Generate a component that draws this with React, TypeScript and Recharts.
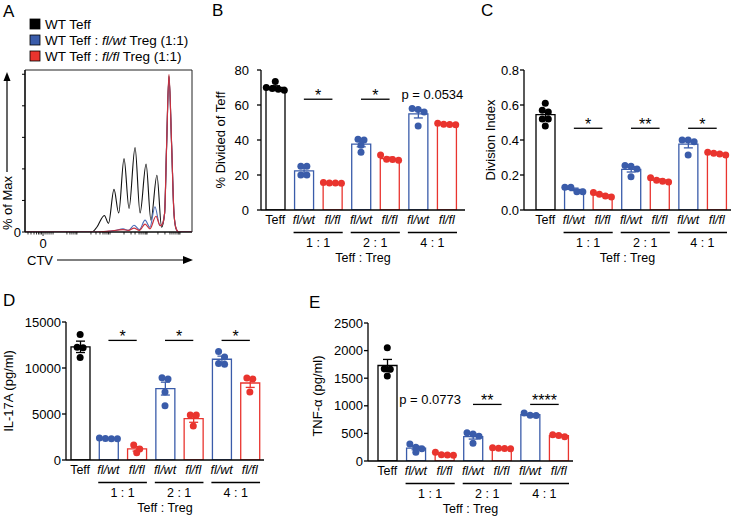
import React from "react";
import {
  Bar,
  Cell,
  ComposedChart,
  ErrorBar,
  Line,
  LineChart,
  ReferenceArea,
  ReferenceLine,
  Scatter,
  XAxis,
  YAxis,
} from "recharts";

const FONT = '"Liberation Sans", Arial, Helvetica, sans-serif';
const BLUE = "#3a5caa";
const RED = "#e9342e";
const COLORS: Record<string, string> = { teff: "#000", wt: BLUE, fl: RED };

// categories shared by B-E
const catLabels = ["Teff", "fl/wt", "fl/fl", "fl/wt", "fl/fl", "fl/wt", "fl/fl"];
const catGeno = ["teff", "wt", "fl", "wt", "fl", "wt", "fl"];
const ratioLabels = ["1 : 1", "2 : 1", "4 : 1"];
const ratioTitle = "Teff : Treg";

// A - CTV histogram
const blackCh = [0, 400, 430, 475, 500, 533, 561, 593, 623, 659, 689, 725, 754, 790, 818, 836, 848, 862, 878, 892, 905, 920, 1000];
const blackPct = [0, 0, 3, 10.5, 5.5, 27, 12, 46.5, 15, 53.5, 12, 43, 7.5, 36, 3, 12, 55, 99, 55, 12, 2, 0, 0];
const blueCh = [0, 420, 500, 540, 587, 620, 653, 685, 719, 748, 778, 808, 822, 836, 848, 862, 878, 892, 905, 920, 1000];
const bluePct = [0, 0, 0.5, 1, 2, 1, 4.3, 1.5, 7.5, 3, 16, 4, 5, 12, 55, 98, 55, 12, 2, 0, 0];
const redCh = [0, 420, 500, 587, 620, 653, 685, 719, 748, 784, 810, 822, 836, 848, 862, 878, 892, 905, 920, 1000];
const redPct = [0, 0, 0.5, 1.5, 1, 2.5, 1, 5, 2, 10, 4, 5, 12, 55, 100, 55, 12, 2, 0, 0];
const histYTicks = [0, 20, 40, 60, 80, 100];
const histZero = 108;
const histXTicks = [18, 36, 54, 69, 81, 90, 99, 108, 120, 132, 144, 156, 168, 251, 269, 281, 293, 305, 311, 395, 425, 449, 467, 479, 491, 500, 509, 593, 635, 659, 683, 695, 707, 719, 725, 731, 796, 838, 868, 880, 892, 904, 916, 922, 928];

// B - % divided
const divMean = [70.1, 22.4, 15.5, 37.7, 29.4, 54.9, 49.0];
const divSem = [0.9, 1.5, 0.2, 1.6, 0.8, 2.3, 0.3];
const divDots = [
  [73.5, 70, 69.5, 69, 68.5],
  [25, 25, 20, 20],
  [15.7, 15.5, 15.3, 15.5],
  [40.5, 40, 37, 33],
  [31.5, 28.8, 29, 28.5],
  [58, 57.5, 56, 48],
  [49.6, 49, 48.8, 48.7],
];
const divTicks = [0, 20, 40, 60, 80];
const divSig = [
  { from: 1, to: 2, y: 63.3, text: "*", line: true },
  { from: 3, to: 4, y: 63.3, text: "*", line: true },
  { from: 5, to: 6, y: 63.3, text: "p = 0.0534", line: false },
];

// C - division index
const diMean = [0.545, 0.118, 0.086, 0.232, 0.171, 0.376, 0.322];
const diSem = [0.02, 0.007, 0.005, 0.015, 0.006, 0.021, 0.003];
const diDots = [
  [0.61, 0.57, 0.56, 0.52, 0.52, 0.48],
  [0.13, 0.13, 0.105, 0.105],
  [0.1, 0.09, 0.08, 0.075],
  [0.255, 0.25, 0.235, 0.19],
  [0.185, 0.17, 0.165, 0.16],
  [0.4, 0.4, 0.39, 0.315],
  [0.33, 0.325, 0.32, 0.315],
];
const diTicks = [0, 0.2, 0.4, 0.6, 0.8];
const diSig = [
  { from: 1, to: 2, y: 0.467, text: "*", line: true },
  { from: 3, to: 4, y: 0.467, text: "**", line: true },
  { from: 5, to: 6, y: 0.467, text: "*", line: true },
];

// D - IL-17A
const ilMean = [12300, 2340, 1210, 7760, 4500, 10950, 8370];
const ilSem = [620, 30, 240, 700, 400, 340, 480];
const ilDots = [
  [13650, 12250, 12200, 11150],
  [2400, 2350, 2320, 2300],
  [1630, 1200, 800],
  [8950, 8800, 7400, 5900],
  [4900, 4900, 3700],
  [11800, 11200, 10500, 10400],
  [8900, 8800, 7400],
];
const ilTicks = [0, 5000, 10000, 15000];
const ilSig = [
  { from: 1, to: 2, y: 13000, text: "*", line: true },
  { from: 3, to: 4, y: 13000, text: "*", line: true },
  { from: 5, to: 6, y: 13000, text: "*", line: true },
];

// E - TNF-a
const tnfMean = [1730, 235, 122, 442, 225, 838, 459];
const tnfSem = [110, 32, 14, 45, 5, 14, 11];
const tnfDots = [
  [2050, 1670, 1660, 1540],
  [310, 250, 220, 160],
  [160, 115, 110, 105],
  [510, 490, 450, 320],
  [240, 230, 220, 225],
  [870, 830, 825],
  [477, 440, 460],
];
const tnfTicks = [0, 500, 1000, 1500, 2000, 2500];
const tnfSig = [
  { from: 1, to: 2, y: 1025, text: "p = 0.0773", line: false },
  { from: 3, to: 4, y: 1025, text: "**", line: true },
  { from: 5, to: 6, y: 1025, text: "****", line: true },
];

const MARGIN_TOP = 20;
const X_HEIGHT = 56;
const DOT_GAP = 6;
const DOT_R = 3.5;

// spread dots with (almost) equal values side by side, like a swarm
function swarm(vals: number[], ppu: number) {
  const order = vals.map((v, i) => ({ v, i })).sort((a, b) => b.v - a.v);
  const rows: number[][] = [];
  for (const o of order) {
    const last = rows[rows.length - 1];
    if (last && Math.abs(vals[last[0]] - o.v) * ppu < DOT_GAP) last.push(o.i);
    else rows.push([o.i]);
  }
  const off = vals.map(() => 0);
  rows.forEach((r) => r.forEach((idx, j) => (off[idx] = (j - (r.length - 1) / 2) * DOT_GAP)));
  return off;
}

function buildRows(means: number[], sems: number[], dots: number[][], ppu: number) {
  return means.map((m, i) => {
    const row: any = { k: `c${i}`, g: catGeno[i], m };
    row[`sem_${catGeno[i]}`] = sems[i];
    const offs = swarm(dots[i], ppu);
    dots[i].forEach((v, j) => {
      row[`d${j}`] = v;
      row[`o${j}`] = offs[j];
    });
    return row;
  });
}

function CatTick(props: any) {
  const { x, y, payload, band } = props;
  const i = Number(String(payload.value).slice(1));
  const geno = catGeno[i];
  const ratio = geno === "wt" ? ratioLabels[(i - 1) / 2] : null;
  const gx = x + band / 2;
  return (
    <g>
      <text x={x} y={y + 14} textAnchor="middle" fontSize={12.5} fill="#000" fontStyle={geno === "teff" ? "normal" : "italic"}>
        {catLabels[i]}
      </text>
      {ratio && (
        <g>
          <line x1={gx - band * 0.86} x2={gx + band * 0.86} y1={y + 22.5} y2={y + 22.5} stroke="#000" strokeWidth={1.5} />
          <text x={gx} y={y + 36.5} textAnchor="middle" fontSize={12.5} fill="#000">
            {ratio}
          </text>
        </g>
      )}
    </g>
  );
}

const yTitle = (text: string, dx: number, dy: number) => (p: any) => {
  const vb = p.viewBox;
  const cx = vb.x + dx;
  const cy = vb.y + vb.height / 2 + dy;
  return (
    <text x={cx} y={cy} dy="0.35em" transform={`rotate(-90 ${cx} ${cy})`} textAnchor="middle" fontSize={13} fill="#000">
      {text}
    </text>
  );
};

const xTitle = (p: any) => {
  const vb = p.viewBox;
  return (
    <text x={vb.x + vb.width / 2} y={vb.y + 52} textAnchor="middle" fontSize={12.5} fill="#000">
      {ratioTitle}
    </text>
  );
};

const sigLabel = (text: string, isP: boolean) => (p: any) => {
  const vb = p.viewBox;
  return (
    <text x={vb.x + vb.width / 2} y={vb.y + (isP ? 0 : 2)} textAnchor="middle" fontSize={isP ? 13 : 16} fill="#000">
      {text}
    </text>
  );
};

const dotShape = (j: number) => (p: any) => {
  const v = p.payload?.[`d${j}`];
  if (v == null || p.cx == null || p.cy == null) return <g />;
  return <circle cx={p.cx + (p.payload[`o${j}`] || 0)} cy={p.cy} r={DOT_R} fill={COLORS[p.payload.g]} />;
};

type Lay = {
  left: number;
  top: number;
  width: number;
  height: number;
  yWidth: number;
  marginRight: number;
  padLeft: number;
  padRight: number;
  titleX: number;
  titleDy: number;
  tickGap: number;
};

function DotBarPanel(props: {
  title: string;
  yMax: number;
  yTicks: number[];
  fmt: (v: number) => string;
  means: number[];
  sems: number[];
  dots: number[][];
  sig: { from: number; to: number; y: number; text: string; line: boolean }[];
  lay: Lay;
}) {
  const { title, yMax, yTicks, fmt, means, sems, dots, sig, lay } = props;
  const plotH = lay.height - MARGIN_TOP - X_HEIGHT;
  const plotW = lay.width - lay.yWidth - lay.marginRight;
  const band = (plotW - lay.padLeft - lay.padRight) / catLabels.length;
  const rows = buildRows(means, sems, dots, plotH / yMax);
  const maxDots = Math.max(...dots.map((d) => d.length));
  return (
    <div style={{ position: "absolute", left: lay.left, top: lay.top }}>
      <ComposedChart width={lay.width} height={lay.height} data={rows} margin={{ top: MARGIN_TOP, right: lay.marginRight, bottom: 0, left: 0 }}>
        <XAxis
          dataKey="k"
          type="category"
          interval={0}
          tickLine={false}
          tickSize={0}
          tickMargin={0}
          height={X_HEIGHT}
          padding={{ left: lay.padLeft, right: lay.padRight }}
          axisLine={{ stroke: "#000", strokeWidth: 1.3 }}
          tick={(p: any) => <CatTick {...p} band={band} />}
          label={xTitle}
        />
        <YAxis
          type="number"
          domain={[0, yMax]}
          ticks={yTicks}
          tickFormatter={fmt}
          width={lay.yWidth}
          tickSize={4}
          tickMargin={lay.tickGap}
          axisLine={{ stroke: "#000", strokeWidth: 1.3 }}
          tickLine={{ stroke: "#000", strokeWidth: 1.3 }}
          tick={{ fill: "#000", fontSize: 13 }}
          label={yTitle(title, lay.titleX, lay.titleDy)}
          allowDataOverflow
        />
        <Bar dataKey="m" barSize={19} fill="#fff" strokeWidth={1.3} isAnimationActive={false}>
          {rows.map((r) => (
            <Cell key={r.k} stroke={COLORS[r.g]} />
          ))}
          <ErrorBar dataKey="sem_teff" width={4.5} stroke={COLORS.teff} strokeWidth={1.3} isAnimationActive={false} />
          <ErrorBar dataKey="sem_wt" width={4.5} stroke={COLORS.wt} strokeWidth={1.3} isAnimationActive={false} />
          <ErrorBar dataKey="sem_fl" width={4.5} stroke={COLORS.fl} strokeWidth={1.3} isAnimationActive={false} />
        </Bar>
        {Array.from({ length: maxDots }, (_, j) => (
          <Scatter key={j} dataKey={`d${j}`} shape={dotShape(j)} isAnimationActive={false} />
        ))}
        {sig.map((s, i) => (
          <ReferenceLine
            key={i}
            segment={[
              { x: `c${s.from}`, y: s.y },
              { x: `c${s.to}`, y: s.y },
            ]}
            stroke={s.line ? "#000" : "none"}
            strokeWidth={1.3}
            label={sigLabel(s.text, !s.line)}
          />
        ))}
      </ComposedChart>
    </div>
  );
}

function HistTick(p: any) {
  const { x, y, payload } = p;
  const major = payload.value === histZero;
  return (
    <g>
      <line x1={x} x2={x} y1={y} y2={y + (major ? 4 : 2.5)} stroke="#000" strokeWidth={0.8} />
      {major && (
        <text x={x} y={y + 15.5} textAnchor="middle" fontSize={13} fill="#000">
          0
        </text>
      )}
    </g>
  );
}

const HIST_MAX = 102.7;

function HistPanel() {
  const black = blackCh.map((ch, i) => ({ ch, pct: blackPct[i] }));
  const blue = blueCh.map((ch, i) => ({ ch, pct: bluePct[i] }));
  const red = redCh.map((ch, i) => ({ ch, pct: redPct[i] }));
  return (
    <div style={{ position: "absolute", left: 0, top: 50 }}>
      <LineChart width={197} height={212} margin={{ top: 20, right: 5, bottom: 0, left: 0 }}>
        <XAxis
          type="number"
          dataKey="ch"
          domain={[0, 1000]}
          ticks={histXTicks}
          interval={0}
          tickLine={false}
          tickSize={0}
          tickMargin={0}
          height={30}
          axisLine={{ stroke: "#000", strokeWidth: 1.2 }}
          tick={HistTick}
          allowDataOverflow
        />
        <YAxis
          type="number"
          domain={[0, HIST_MAX]}
          ticks={histYTicks}
          tickFormatter={(v: number) => (v === 0 ? "0" : "")}
          width={25}
          tickSize={3}
          tickMargin={1}
          axisLine={{ stroke: "#000", strokeWidth: 1.2 }}
          tickLine={{ stroke: "#000", strokeWidth: 1 }}
          tick={{ fill: "#000", fontSize: 13 }}
          allowDataOverflow
        />
        <ReferenceArea x1={0} x2={1000} y1={0} y2={HIST_MAX} fill="none" stroke="#222" strokeWidth={1} />
        <Line data={black} dataKey="pct" type="monotone" dot={false} stroke="#111" strokeWidth={1.1} isAnimationActive={false} />
        <Line data={blue} dataKey="pct" type="monotone" dot={false} stroke="#4a6cb8" strokeWidth={1.1} isAnimationActive={false} />
        <Line data={red} dataKey="pct" type="monotone" dot={false} stroke="#c9303d" strokeWidth={1.2} isAnimationActive={false} />
      </LineChart>
    </div>
  );
}

function Overlay() {
  const legendRows = [
    { c: "#000", pre: "WT Teff", it: "", post: "" },
    { c: BLUE, pre: "WT Teff : ", it: "fl/wt", post: " Treg (1:1)" },
    { c: RED, pre: "WT Teff : ", it: "fl/fl", post: " Treg (1:1)" },
  ];
  return (
    <svg width={736} height={518} style={{ position: "absolute", left: 0, top: 0, pointerEvents: "none" }}>
      <g fontSize={17} fill="#000">
        <text x={3} y={17}>A</text>
        <text x={212} y={16}>B</text>
        <text x={481} y={16}>C</text>
        <text x={3} y={306}>D</text>
        <text x={309} y={308}>E</text>
      </g>
      {legendRows.map((r, i) => (
        <g key={i}>
          <rect x={30} y={19 + i * 16} width={10} height={10} fill={r.c} stroke="#000" strokeWidth={0.8} />
          <text x={45} y={28.5 + i * 16} fontSize={13.5} fill="#000" style={{ whiteSpace: "pre" }}>
            {r.pre}
            {r.it && <tspan fontStyle="italic">{r.it}</tspan>}
            {r.post}
          </text>
        </g>
      ))}
      <line x1={7} x2={7} y1={172} y2={80} stroke="#000" strokeWidth={1.2} />
      <polygon points="7,72 3.5,81 10.5,81" fill="#000" />
      <text x={11.5} y={203} transform="rotate(-90 11.5 203)" textAnchor="middle" fontSize={13} fill="#000">
        % of Max
      </text>
      <text x={27} y={265} fontSize={13} fill="#000">
        CTV
      </text>
      <line x1={57} x2={184} y1={260} y2={260} stroke="#000" strokeWidth={1.2} />
      <polygon points="193,260 183,256 183,264" fill="#000" />
    </svg>
  );
}

export default function App() {
  return (
    <div
      style={{
        position: "absolute",
        left: 0,
        top: 0,
        width: 736,
        height: 518,
        overflow: "hidden",
        background: "#fff",
        fontFamily: FONT,
      }}
    >
      <HistPanel />
      <DotBarPanel
        title="% Divided of Teff"
        yMax={80}
        yTicks={divTicks}
        fmt={(v) => String(v)}
        means={divMean}
        sems={divSem}
        dots={divDots}
        sig={divSig}
        lay={{ left: 195, top: 50, width: 275, height: 216, yWidth: 66, marginRight: 5, padLeft: 0, padRight: 4, titleX: 25, titleDy: 0, tickGap: 8 }}
      />
      <DotBarPanel
        title="Division Index"
        yMax={0.8}
        yTicks={diTicks}
        fmt={(v) => v.toFixed(1)}
        means={diMean}
        sems={diSem}
        dots={diDots}
        sig={diSig}
        lay={{ left: 470, top: 50, width: 264, height: 216, yWidth: 54, marginRight: 3, padLeft: 7, padRight: 0, titleX: 20, titleDy: 0, tickGap: 1 }}
      />
      <DotBarPanel
        title="IL-17A (pg/ml)"
        yMax={15000}
        yTicks={ilTicks}
        fmt={(v) => String(v)}
        means={ilMean}
        sems={ilSem}
        dots={ilDots}
        sig={ilSig}
        lay={{ left: 0, top: 302, width: 268, height: 214, yWidth: 66, marginRight: 4, padLeft: 0, padRight: 0, titleX: 8.5, titleDy: 0, tickGap: 1 }}
      />
      <DotBarPanel
        title="TNF-α (pg/ml)"
        yMax={2500}
        yTicks={tnfTicks}
        fmt={(v) => String(v)}
        means={tnfMean}
        sems={tnfSem}
        dots={tnfDots}
        sig={tnfSig}
        lay={{ left: 300, top: 303, width: 277, height: 214, yWidth: 68, marginRight: 4, padLeft: 5, padRight: 0, titleX: 17.7, titleDy: 4, tickGap: 1 }}
      />
      <Overlay />
    </div>
  );
}
